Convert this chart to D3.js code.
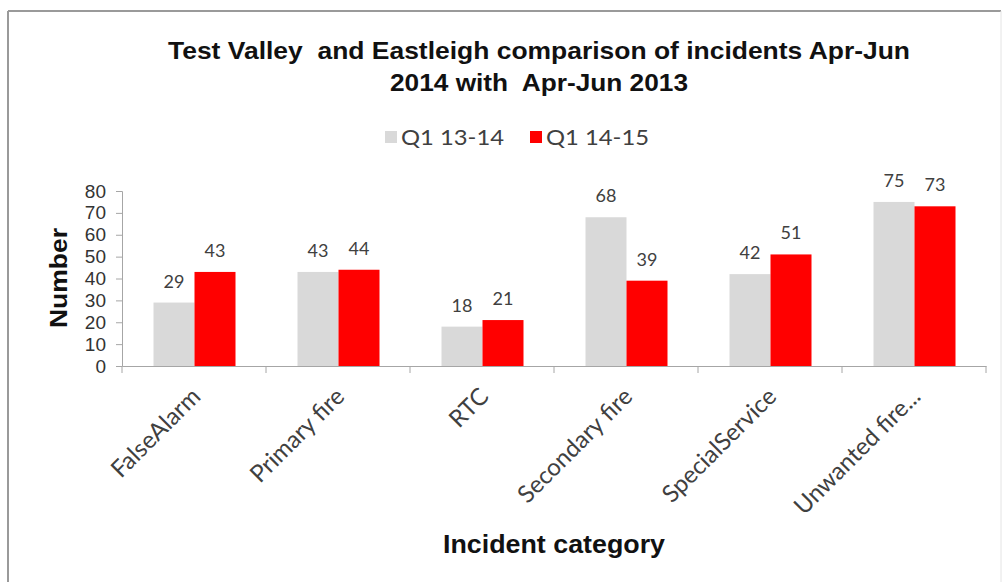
<!DOCTYPE html>
<html>
<head>
<meta charset="utf-8">
<script src="https://cdn.jsdelivr.net/npm/d3@7"></script>
<style>
  html, body { margin: 0; padding: 0; background: #fff; }
  svg { display: block; }
  text { white-space: pre; }
</style>
</head>
<body>
<script>
// ---- data ----
const categories = ["FalseAlarm", "Primary fire", "RTC", "Secondary fire", "SpecialService", "Unwanted fire..."];
const seriesNames = ["Q1 13-14", "Q1 14-15"];
const q1_1314 = [29, 43, 18, 68, 42, 75];
const q1_1415 = [43, 44, 21, 39, 51, 73];
const seriesColors = ["#d9d9d9", "#ff0000"];
const yTicks = [0, 10, 20, 30, 40, 50, 60, 70, 80];
const titleLines = ["Test Valley  and Eastleigh comparison of incidents Apr-Jun", "2014 with  Apr-Jun 2013"];
const xTitle = "Incident category";
const yTitle = "Number";

const W = 1003, H = 582;
const svg = d3.select("body").append("svg").attr("width", W).attr("height", H);

// frame
svg.append("line").attr("x1", 8).attr("y1", 11).attr("x2", 1001).attr("y2", 11)
  .attr("stroke", "#9a9a9a").attr("stroke-width", 2);
svg.append("line").attr("x1", 8).attr("y1", 11).attr("x2", 8).attr("y2", H)
  .attr("stroke", "#9a9a9a").attr("stroke-width", 2);
svg.append("line").attr("x1", 1001).attr("y1", 11).attr("x2", 1001).attr("y2", H)
  .attr("stroke", "#e4e4e4").attr("stroke-width", 1);

// scales
const x0 = d3.scaleBand().domain(categories).range([122, 986]).padding(0);
const x1 = d3.scaleBand().domain(seriesNames).range([31.5, 113.5]).padding(0);
const y = d3.scaleLinear().domain([0, 80]).range([366, 191]);

const rows = categories.map((c, i) => ({ cat: c, vals: [q1_1314[i], q1_1415[i]] }));

// bars
const g = svg.append("g");
const groups = g.selectAll("g.cat").data(rows).join("g")
  .attr("transform", d => `translate(${x0(d.cat)},0)`);
groups.selectAll("rect").data(d => d.vals.map((v, k) => ({ s: seriesNames[k], v, k })))
  .join("rect")
  .attr("x", d => x1(d.s))
  .attr("y", d => y(d.v))
  .attr("width", x1.bandwidth())
  .attr("height", d => y(0) - y(d.v))
  .attr("fill", d => seriesColors[d.k]);
groups.selectAll("text").data(d => d.vals.map((v, k) => ({ s: seriesNames[k], v, k })))
  .join("text")
  .attr("x", d => x1(d.s) + x1.bandwidth() / 2)
  .attr("y", d => y(d.v) - 15)
  .attr("text-anchor", "middle")
  .attr("font-family", "Lato, sans-serif")
  .attr("font-size", 18)
  .attr("fill", "#404040")
  .text(d => d.v);

// y axis
const yAxis = svg.append("g").attr("transform", "translate(122,0)")
  .call(d3.axisLeft(y).tickValues(yTicks).tickSize(6).tickPadding(10));
yAxis.select(".domain").attr("stroke", "#a6a6a6");
yAxis.selectAll(".tick line").attr("stroke", "#a6a6a6");
yAxis.selectAll(".tick text").attr("font-family", "'Liberation Sans', Arial, sans-serif")
  .attr("font-size", 19).attr("fill", "#333333");

// x axis
const xAxis = svg.append("g").attr("transform", `translate(0,${y(0)})`)
  .call(d3.axisBottom(x0).tickSize(0).tickFormat(""));
xAxis.select(".domain").attr("stroke", "#a6a6a6");
const bounds = categories.map(c => x0(c)).concat([x0.range()[1]]);
xAxis.selectAll("line.bound").data(bounds).join("line").attr("class", "bound")
  .attr("x1", d => d).attr("x2", d => d).attr("y1", 0).attr("y2", 7)
  .attr("stroke", "#a6a6a6");
xAxis.selectAll("text.cat").data(categories).join("text").attr("class", "cat")
  .attr("transform", d => `translate(${x0(d) + x0.bandwidth() / 2 + 8},${32}) rotate(-45)`)
  .attr("text-anchor", "end")
  .attr("font-family", "Lato, sans-serif")
  .attr("font-size", 24)
  .attr("fill", "#404040")
  .text(d => d);

// titles
const tl = svg.append("g").attr("font-family", "'Liberation Sans', Arial, sans-serif")
  .attr("font-weight", "bold").attr("fill", "#111111");
tl.append("text").attr("x", 539).attr("y", 59).attr("text-anchor", "middle")
  .attr("font-size", 24).attr("textLength", 742).attr("lengthAdjust", "spacingAndGlyphs")
  .text(titleLines[0]);
tl.append("text").attr("x", 539).attr("y", 91).attr("text-anchor", "middle")
  .attr("font-size", 24).attr("textLength", 298).attr("lengthAdjust", "spacingAndGlyphs")
  .text(titleLines[1]);

svg.append("text").attr("x", 554).attr("y", 553).attr("text-anchor", "middle")
  .attr("font-family", "'Liberation Sans', Arial, sans-serif").attr("font-weight", "bold")
  .attr("font-size", 25).attr("textLength", 222).attr("lengthAdjust", "spacingAndGlyphs")
  .attr("fill", "#111111").text(xTitle);
svg.append("text").attr("transform", "translate(67,278) rotate(-90)").attr("text-anchor", "middle")
  .attr("font-family", "'Liberation Sans', Arial, sans-serif").attr("font-weight", "bold")
  .attr("font-size", 24).attr("textLength", 100).attr("lengthAdjust", "spacingAndGlyphs")
  .attr("fill", "#111111").text(yTitle);

// legend
const legendX = [385, 530];
const leg = svg.append("g");
seriesNames.forEach((s, k) => {
  leg.append("rect").attr("x", legendX[k]).attr("y", 131).attr("width", 12).attr("height", 12)
    .attr("fill", seriesColors[k]);
  leg.append("text").attr("x", legendX[k] + 16).attr("y", 145)
    .attr("font-family", "Lato, sans-serif").attr("font-size", 21)
    .attr("textLength", 103).attr("lengthAdjust", "spacingAndGlyphs")
    .attr("fill", "#404040").text(s);
});
</script>
</body>
</html>
